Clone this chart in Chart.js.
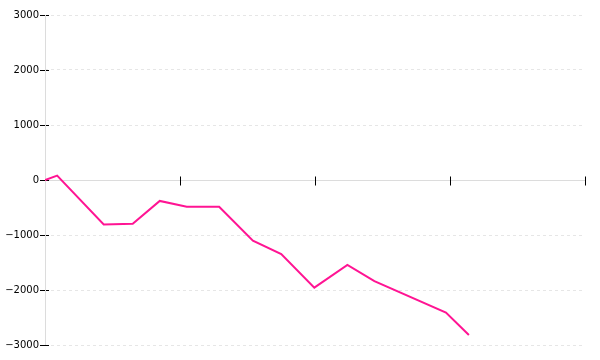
<!DOCTYPE html>
<html>
<head>
<meta charset="utf-8">
<script src="https://cdn.jsdelivr.net/npm/chart.js@4"></script>
<style>
    html, body { margin: 0; padding: 0; background: #fff; }
    #wrap { width: 600px; height: 360px; }
</style>
</head>
<body>
<div id="wrap"><canvas id="chart"></canvas></div>
<script>
const xValues = [0, 0.9, 4.35, 6.5, 8.5, 10.5, 12.9, 15.4, 17.5, 19.95, 22.4, 24.4, 29.7, 31.4];
const yValues = [0, 80, -810, -795, -380, -485, -485, -1105, -1345, -1958, -1545, -1840, -2410, -2818];
const xTicks = [0, 10, 20, 30, 40];
const yTicks = [-3000, -2000, -1000, 0, 1000, 2000, 3000];

const axisColor = '#dcdcdc';

// zero line with its tick marks, plus the y tick marks that cross the y axis
const axisMarks = {
    id: 'axisMarks',
    beforeDatasetsDraw(chart) {
        const { ctx, chartArea, scales } = chart;
        const y0 = Math.round(scales.y.getPixelForValue(0)) + 0.5;
        const xLeft = Math.round(chartArea.left) + 0.5;
        ctx.save();
        ctx.lineWidth = 1;
        ctx.strokeStyle = axisColor;
        ctx.beginPath();
        ctx.moveTo(chartArea.left, y0);
        ctx.lineTo(chartArea.right, y0);
        ctx.stroke();

        ctx.strokeStyle = '#000';
        xTicks.forEach((v) => {
            const x = Math.round(scales.x.getPixelForValue(v)) + 0.5;
            ctx.beginPath();
            ctx.moveTo(x, y0 - 4);
            ctx.lineTo(x, y0 + 5);
            ctx.stroke();
        });
        yTicks.forEach((v) => {
            const y = Math.round(scales.y.getPixelForValue(v)) + 0.5;
            ctx.beginPath();
            ctx.moveTo(xLeft - 5.5, y);
            ctx.lineTo(xLeft + 3.5, y);
            ctx.stroke();
        });

        ctx.strokeStyle = axisColor;
        ctx.beginPath();
        ctx.moveTo(xLeft, chartArea.top);
        ctx.lineTo(xLeft, chartArea.bottom);
        ctx.stroke();
        ctx.restore();
    },
};

new Chart(document.getElementById('chart'), {
    type: 'line',
    data: {
        datasets: [
            {
                data: xValues.map((x, i) => ({ x, y: yValues[i] })),
                borderColor: '#ff1493',
                borderWidth: 2,
                pointRadius: 0,
                tension: 0,
                fill: false,
            },
        ],
    },
    options: {
        responsive: true,
        maintainAspectRatio: false,
        animation: false,
        layout: {
            padding: { top: 15, right: 15, bottom: 15, left: 0 },
        },
        plugins: {
            legend: { display: false },
            tooltip: { enabled: false },
        },
        scales: {
            x: {
                type: 'linear',
                display: false,
                min: xTicks[0],
                max: xTicks[xTicks.length - 1],
            },
            y: {
                min: yTicks[0],
                max: yTicks[yTicks.length - 1],
                afterFit: (scale) => {
                    scale.width = 45;
                },
                afterBuildTicks: (scale) => {
                    scale.ticks = yTicks.map((v) => ({ value: v }));
                },
                ticks: {
                    color: '#000',
                    padding: 0,
                    font: { family: 'DejaVu Sans', size: 10 },
                    callback: (v) => String(v).replace('-', '\u2212'),
                },
                grid: {
                    color: (ctx) => (ctx.tick && ctx.tick.value === 0 ? 'rgba(0,0,0,0)' : '#e6e6e6'),
                    tickColor: 'rgba(0,0,0,0)',
                    tickLength: 6,
                    tickBorderDash: [],
                },
                border: {
                    display: false,
                    dash: [3, 3],
                },
            },
        },
    },
    plugins: [axisMarks],
});
</script>
</body>
</html>
